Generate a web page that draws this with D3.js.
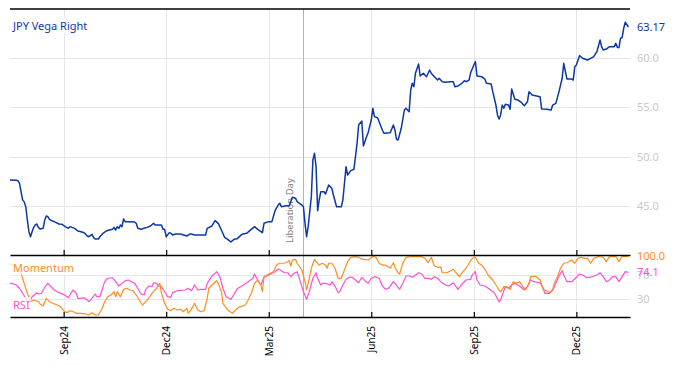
<!DOCTYPE html>
<html>
<head>
<meta charset="utf-8">
<script src="https://cdn.jsdelivr.net/npm/d3@7"></script>
<style>
  body { margin: 0; background: #fff; }
  svg { display: block; font-family: "Noto Sans", sans-serif; }
</style>
</head>
<body>
<svg id="chart" width="674" height="366"></svg>
<script>
// JPY vega (right), daily closes
var vega = [
  ["2024-07-16",47.62],["2024-07-22",47.60],["2024-07-23",47.55],["2024-07-24",47.30],["2024-07-25",46.43],
  ["2024-07-26",45.60],["2024-07-29",45.40],["2024-07-30",44.90],["2024-07-31",43.55],["2024-08-01",42.37],
  ["2024-08-02",41.86],["2024-08-05",42.37],["2024-08-06",42.81],["2024-08-07",43.05],["2024-08-08",43.15],
  ["2024-08-09",42.81],["2024-08-12",42.64],["2024-08-14",42.71],["2024-08-15",43.55],["2024-08-16",43.96],
  ["2024-08-19",43.89],["2024-08-20",43.63],["2024-08-22",43.45],["2024-08-26",43.32],["2024-08-28",43.15],
  ["2024-08-30",43.12],["2024-09-03",42.88],["2024-09-05",42.71],["2024-09-06",42.88],["2024-09-11",42.71],
  ["2024-09-13",42.44],["2024-09-17",42.37],["2024-09-19",42.27],["2024-09-23",41.93],["2024-09-24",41.86],
  ["2024-09-26",42.10],["2024-09-27",41.76],["2024-09-30",41.63],["2024-10-02",41.63],["2024-10-03",41.86],
  ["2024-10-07",42.20],["2024-10-09",42.44],["2024-10-11",42.54],["2024-10-15",42.61],["2024-10-16",42.81],
  ["2024-10-17",42.54],["2024-10-18",42.88],["2024-10-21",42.71],["2024-10-22",43.05],["2024-10-23",42.88],
  ["2024-10-24",43.66],["2024-10-25",43.39],["2024-10-29",43.39],["2024-11-04",43.35],["2024-11-05",43.22],
  ["2024-11-06",42.71],["2024-11-08",42.61],["2024-11-12",42.71],["2024-11-14",42.81],["2024-11-18",42.95],
  ["2024-11-20",43.22],["2024-11-21",43.05],["2024-11-27",43.05],["2024-11-28",42.61],["2024-11-29",42.61],
  ["2024-12-02",41.86],["2024-12-04",42.27],["2024-12-05",42.20],["2024-12-06",42.03],["2024-12-10",42.13],
  ["2024-12-13",42.13],["2024-12-19",41.93],["2024-12-23",42.13],["2024-12-24",42.13],["2024-12-26",42.03],
  ["2025-01-06",42.03],["2025-01-07",42.71],["2025-01-10",42.95],["2025-01-14",43.49],["2025-01-16",43.22],
  ["2025-01-20",42.54],["2025-01-22",41.80],["2025-01-24",41.59],["2025-01-28",41.32],["2025-01-30",41.59],
  ["2025-02-03",41.66],["2025-02-06",42.10],["2025-02-11",42.20],["2025-02-13",42.47],["2025-02-18",42.88],
  ["2025-02-20",42.61],["2025-02-25",42.27],["2025-02-26",43.22],["2025-03-03",43.39],["2025-03-05",43.39],
  ["2025-03-07",44.50],["2025-03-11",45.08],["2025-03-12",45.25],["2025-03-13",44.90],["2025-03-18",45.00],
  ["2025-03-20",45.00],["2025-03-24",45.86],["2025-03-26",45.76],["2025-03-27",45.42],["2025-04-01",45.08],
  ["2025-04-02",44.90],["2025-04-03",43.22],["2025-04-04",41.86],["2025-04-07",42.88],["2025-04-09",45.93],
  ["2025-04-10",49.65],["2025-04-11",50.33],["2025-04-14",48.97],["2025-04-15",44.50],["2025-04-16",45.59],
  ["2025-04-17",46.43],["2025-04-21",46.43],["2025-04-22",46.20],["2025-04-24",47.11],["2025-04-28",46.78],
  ["2025-04-29",46.10],["2025-05-01",44.90],["2025-05-06",44.90],["2025-05-07",45.59],["2025-05-09",48.97],
  ["2025-05-12",48.13],["2025-05-14",48.57],["2025-05-16",48.71],["2025-05-20",51.35],["2025-05-21",53.21],
  ["2025-05-23",53.62],["2025-05-26",51.08],["2025-05-28",52.02],["2025-05-29",52.43],["2025-06-02",53.72],
  ["2025-06-03",54.91],["2025-06-04",54.06],["2025-06-06",53.95],["2025-06-09",53.55],["2025-06-11",52.70],
  ["2025-06-12",52.37],["2025-06-18",52.43],["2025-06-20",53.21],["2025-06-23",52.70],["2025-06-24",51.76],
  ["2025-06-25",51.69],["2025-06-27",52.88],["2025-07-01",54.74],["2025-07-02",54.91],["2025-07-04",54.56],
  ["2025-07-07",56.77],["2025-07-08",57.45],["2025-07-09",57.10],["2025-07-10",58.47],["2025-07-14",59.41],
  ["2025-07-15",58.19],["2025-07-17",58.47],["2025-07-21",58.12],["2025-07-23",58.80],["2025-07-24",58.47],
  ["2025-07-28",58.12],["2025-07-30",57.78],["2025-07-31",57.96],["2025-08-04",57.61],["2025-08-06",57.55],
  ["2025-08-11",57.61],["2025-08-13",57.61],["2025-08-14",57.10],["2025-08-18",57.18],["2025-08-20",57.38],
  ["2025-08-22",57.71],["2025-08-25",57.61],["2025-08-27",57.78],["2025-08-28",58.53],["2025-09-01",59.31],
  ["2025-09-02",59.65],["2025-09-03",58.19],["2025-09-08",58.12],["2025-09-10",57.88],["2025-09-11",57.45],
  ["2025-09-16",57.38],["2025-09-17",56.60],["2025-09-19",55.24],["2025-09-22",54.23],["2025-09-23",53.82],
  ["2025-09-24",54.23],["2025-09-25",55.24],["2025-09-26",54.91],["2025-09-29",55.31],["2025-10-01",55.24],
  ["2025-10-02",54.81],["2025-10-03",56.87],["2025-10-07",55.82],["2025-10-09",55.75],["2025-10-13",55.52],
  ["2025-10-15",55.17],["2025-10-17",55.58],["2025-10-20",56.60],["2025-10-22",56.26],["2025-10-24",56.19],
  ["2025-10-29",56.09],["2025-10-30",54.84],["2025-11-04",54.81],["2025-11-07",54.74],["2025-11-10",55.24],
  ["2025-11-12",55.41],["2025-11-14",56.60],["2025-11-18",57.96],["2025-11-19",59.48],["2025-11-21",57.89],
  ["2025-11-26",57.89],["2025-11-27",57.78],["2025-11-28",59.14],["2025-12-01",59.31],["2025-12-03",60.26],
  ["2025-12-05",59.99],["2025-12-10",59.82],["2025-12-12",59.99],["2025-12-16",60.15],["2025-12-18",60.66],
  ["2025-12-22",61.85],["2025-12-23",61.17],["2025-12-24",60.83],["2025-12-26",60.93],["2025-12-30",61.17],
  ["2026-01-02",61.17],["2026-01-05",61.51],["2026-01-06",61.10],["2026-01-07",61.07],["2026-01-08",62.02],
  ["2026-01-09",62.08],["2026-01-12",63.04],["2026-01-13",63.65],["2026-01-15",63.17]
];

var momentum = [
  ["2024-07-16",88],["2024-07-23",80.7],["2024-07-25",72.5],["2024-07-29",56],["2024-07-31",39.7],
  ["2024-08-02",25.9],["2024-08-06",28.7],["2024-08-09",25.9],["2024-08-12",22.1],["2024-08-14",18.9],
  ["2024-08-16",31.5],["2024-08-20",25.9],["2024-08-22",23.3],["2024-08-27",20.5],["2024-08-29",17.7],
  ["2024-09-02",11.1],["2024-09-04",7.9],["2024-09-06",11.1],["2024-09-10",9.5],["2024-09-12",6.9],
  ["2024-09-17",6.9],["2024-09-20",5.7],["2024-09-24",4.1],["2024-09-26",7.9],["2024-09-30",4.1],
  ["2024-10-02",4.1],["2024-10-04",12.3],["2024-10-08",25.9],["2024-10-10",34.1],["2024-10-14",36.9],
  ["2024-10-16",42.3],["2024-10-17",34.1],["2024-10-18",42.3],["2024-10-22",34.1],["2024-10-24",46.2],
  ["2024-10-28",47.9],["2024-10-30",45.1],["2024-11-01",43.9],["2024-11-05",36.9],["2024-11-07",28.7],
  ["2024-11-11",20.5],["2024-11-13",25.9],["2024-11-14",28.7],["2024-11-19",39.7],["2024-11-20",42.3],
  ["2024-11-22",47.9],["2024-11-25",53.3],["2024-11-26",56],["2024-11-27",39.7],["2024-11-29",23.3],
  ["2024-12-03",13.4],["2024-12-05",11.1],["2024-12-09",15.1],["2024-12-11",12.3],["2024-12-13",13.4],
  ["2024-12-17",9.5],["2024-12-19",15.1],["2024-12-20",6.9],["2024-12-24",13.4],["2024-12-26",23.3],
  ["2024-12-30",12.3],["2025-01-01",9.5],["2025-01-03",11.1],["2025-01-07",31.5],["2025-01-08",47.9],
  ["2025-01-10",53.3],["2025-01-15",60.3],["2025-01-16",56],["2025-01-20",42.3],["2025-01-21",23.3],
  ["2025-01-24",12.3],["2025-01-29",6.9],["2025-01-31",12.3],["2025-02-04",16.7],["2025-02-10",20.5],
  ["2025-02-12",28.7],["2025-02-14",39.7],["2025-02-18",56],["2025-02-20",61.5],["2025-02-24",53.3],
  ["2025-02-25",42.3],["2025-02-26",66.9],["2025-03-03",71.3],["2025-03-06",75.1],["2025-03-10",86],
  ["2025-03-12",88.9],["2025-03-14",88.9],["2025-03-18",89.8],["2025-03-20",93.1],["2025-03-21",84.4],
  ["2025-03-24",94.3],["2025-03-26",95.4],["2025-03-27",88.9],["2025-04-01",77.9],["2025-04-03",58.7],
  ["2025-04-04",45.1],["2025-04-07",56],["2025-04-09",80.7],["2025-04-11",95.4],["2025-04-14",91.5],
  ["2025-04-16",86],["2025-04-18",88.9],["2025-04-22",86],["2025-04-23",80.7],["2025-04-24",88.9],
  ["2025-04-28",88.9],["2025-04-30",80.7],["2025-05-02",64.3],["2025-05-06",64.3],["2025-05-08",77.9],
  ["2025-05-12",91.5],["2025-05-14",98.7],["2025-05-19",99.7],["2025-05-21",98.7],["2025-05-23",95.4],
  ["2025-05-27",95.4],["2025-05-29",94.3],["2025-06-03",100],["2025-06-05",98.7],["2025-06-09",88.9],
  ["2025-06-11",86],["2025-06-13",86],["2025-06-18",80.7],["2025-06-20",89.8],["2025-06-23",82.3],
  ["2025-06-25",73.4],["2025-06-26",71.3],["2025-06-30",88.9],["2025-07-02",98.7],["2025-07-07",99.7],
  ["2025-07-10",100],["2025-07-16",99.7],["2025-07-18",97],["2025-07-22",89.8],["2025-07-24",98.7],
  ["2025-07-28",84.4],["2025-07-30",82.3],["2025-08-01",83],["2025-08-04",73.4],["2025-08-07",73.4],
  ["2025-08-13",79],["2025-08-15",72.5],["2025-08-19",66.9],["2025-08-21",75.1],["2025-08-25",80.7],
  ["2025-08-27",88.9],["2025-08-29",97],["2025-09-02",98.7],["2025-09-04",88.9],["2025-09-08",86],
  ["2025-09-10",79],["2025-09-12",69.7],["2025-09-17",61.5],["2025-09-19",53.3],["2025-09-23",45.1],
  ["2025-09-24",42.3],["2025-09-26",50.5],["2025-09-30",50.5],["2025-10-02",46.2],["2025-10-06",58.7],
  ["2025-10-08",56],["2025-10-10",58.7],["2025-10-14",50.5],["2025-10-16",46.2],["2025-10-20",56],
  ["2025-10-21",66.9],["2025-10-24",68],["2025-10-29",61.5],["2025-10-31",46.2],["2025-11-04",43.9],
  ["2025-11-06",40.7],["2025-11-10",46.2],["2025-11-11",56],["2025-11-13",66.9],["2025-11-17",80.7],
  ["2025-11-19",88.9],["2025-11-21",89.8],["2025-11-26",94.3],["2025-11-28",88.9],["2025-12-02",97],
  ["2025-12-04",98.7],["2025-12-08",97],["2025-12-10",97],["2025-12-12",88.9],["2025-12-16",97],
  ["2025-12-19",100],["2025-12-24",98.7],["2025-12-26",91.5],["2025-12-30",99.7],["2026-01-01",99.7],
  ["2026-01-05",100],["2026-01-07",91.5],["2026-01-09",100],["2026-01-15",100]
];

var rsi = [
  ["2024-07-16",56],["2024-07-17",56],["2024-07-22",53.3],["2024-07-24",47.9],["2024-07-26",39.7],
  ["2024-07-30",31.5],["2024-08-01",24.3],["2024-08-05",34.1],["2024-08-08",40.7],["2024-08-09",38.5],
  ["2024-08-13",39.7],["2024-08-14",45.1],["2024-08-16",53.3],["2024-08-19",56],["2024-08-21",50.5],
  ["2024-08-23",45.1],["2024-08-28",40.7],["2024-09-02",38],["2024-09-05",32.5],["2024-09-06",36.9],
  ["2024-09-10",45.1],["2024-09-12",39.7],["2024-09-13",31.5],["2024-09-17",31.5],["2024-09-19",32.5],
  ["2024-09-23",28.7],["2024-09-24",25.9],["2024-09-26",31.5],["2024-09-30",38.5],["2024-10-01",34.1],
  ["2024-10-03",34.1],["2024-10-04",42.3],["2024-10-08",58.7],["2024-10-10",64.3],["2024-10-15",65.2],
  ["2024-10-17",58.7],["2024-10-21",51.6],["2024-10-23",56],["2024-10-25",60.3],["2024-10-29",61.5],
  ["2024-10-31",58.7],["2024-11-04",56],["2024-11-06",47.9],["2024-11-08",38.5],["2024-11-12",36.9],
  ["2024-11-13",46.2],["2024-11-15",51.6],["2024-11-19",50.5],["2024-11-20",57],["2024-11-22",56],
  ["2024-11-25",51.6],["2024-11-27",50.5],["2024-11-29",42.3],["2024-12-03",34.1],["2024-12-05",33.1],
  ["2024-12-06",40.7],["2024-12-11",43.9],["2024-12-18",45.1],["2024-12-20",47.9],["2024-12-24",43.9],
  ["2024-12-26",53.3],["2024-12-30",45.1],["2025-01-01",46.2],["2025-01-06",46.2],["2025-01-07",56],
  ["2025-01-10",68],["2025-01-14",72.5],["2025-01-15",75.1],["2025-01-17",66.9],["2025-01-21",48],
  ["2025-01-23",34.1],["2025-01-28",29.8],["2025-01-30",38],["2025-02-03",47],["2025-02-07",53.3],
  ["2025-02-12",58.7],["2025-02-17",64.3],["2025-02-18",71.3],["2025-02-20",61.5],["2025-02-24",53.3],
  ["2025-02-26",65.9],["2025-03-03",69.7],["2025-03-07",75.1],["2025-03-11",79.5],["2025-03-13",76.7],
  ["2025-03-17",73.4],["2025-03-19",73.4],["2025-03-21",66.9],["2025-03-25",72.5],["2025-03-27",75.1],
  ["2025-03-31",58.7],["2025-04-02",42.3],["2025-04-04",29.8],["2025-04-08",45.1],["2025-04-10",64.3],
  ["2025-04-14",73.4],["2025-04-15",64.3],["2025-04-17",53.3],["2025-04-18",56],["2025-04-22",56],
  ["2025-04-25",53.3],["2025-04-28",58.7],["2025-04-30",51.6],["2025-05-02",40.7],["2025-05-05",42.3],
  ["2025-05-07",53.3],["2025-05-09",62.6],["2025-05-13",65.9],["2025-05-15",65.9],["2025-05-19",61.5],
  ["2025-05-21",57],["2025-05-23",65.9],["2025-05-27",60.3],["2025-05-29",56],["2025-06-02",64.3],
  ["2025-06-04",66.9],["2025-06-09",64.3],["2025-06-11",51.6],["2025-06-13",46.2],["2025-06-17",47.9],
  ["2025-06-20",58.7],["2025-06-23",56],["2025-06-25",49.5],["2025-06-26",46.2],["2025-06-30",56],
  ["2025-07-02",68],["2025-07-04",68],["2025-07-08",65.9],["2025-07-10",69.7],["2025-07-14",73.4],
  ["2025-07-16",71.3],["2025-07-18",64.3],["2025-07-22",64.3],["2025-07-24",62.6],["2025-07-28",66.9],
  ["2025-07-30",64.3],["2025-08-01",58.7],["2025-08-06",53.3],["2025-08-08",51.6],["2025-08-13",57],
  ["2025-08-18",46.2],["2025-08-20",53.3],["2025-08-25",61.5],["2025-08-28",62.6],["2025-08-29",69.7],
  ["2025-09-02",75.1],["2025-09-03",61.5],["2025-09-05",53.3],["2025-09-10",51.6],["2025-09-15",46.2],
  ["2025-09-18",40.7],["2025-09-23",25.9],["2025-09-24",28.7],["2025-09-26",43.9],["2025-09-29",50.5],
  ["2025-10-01",47.9],["2025-10-03",53.3],["2025-10-07",56],["2025-10-10",51.6],["2025-10-15",45.1],
  ["2025-10-17",50.5],["2025-10-21",61.5],["2025-10-23",58.7],["2025-10-29",57],["2025-10-31",47.9],
  ["2025-11-03",39.7],["2025-11-06",39.7],["2025-11-10",45.1],["2025-11-12",56],["2025-11-14",68],
  ["2025-11-18",76.7],["2025-11-19",69.7],["2025-11-21",58.7],["2025-11-26",58.7],["2025-12-01",65.9],
  ["2025-12-03",71.3],["2025-12-05",69.7],["2025-12-09",65.9],["2025-12-12",65.9],["2025-12-18",69.7],
  ["2025-12-22",73.4],["2025-12-24",66.9],["2025-12-26",58.7],["2025-12-30",61.5],["2026-01-01",66.9],
  ["2026-01-05",66.9],["2026-01-07",58.7],["2026-01-09",66.9],["2026-01-13",75.1],["2026-01-15",74.1]
];

var tickMonths = ["2024-09-01","2024-12-01","2025-03-01","2025-06-01","2025-09-01","2025-12-01"];
var vegaTicks = [45, 50, 55, 60];
var oscTicks = [30, 70];
var events = [["2025-04-02", "Liberation Day"]];
var dateRange = ["2024-07-16", "2026-01-16"];

var parse = d3.timeParse("%Y-%m-%d");
var t0 = parse(dateRange[0]);

// x is on trading days, weekends are skipped
function bday(s) {
  var d = typeof s === "string" ? parse(s) : s;
  return d3.timeDay.range(t0, d).filter(function(e) {
    var w = e.getDay();
    return w > 0 && w < 6;
  }).length;
}

var svg = d3.select("#chart"),
  plotLeft = 10,
  plotRight = 630,
  plotTop = 9,
  plotMid = 255,
  plotBottom = 317;

var x = d3.scaleLinear().domain([0, bday(dateRange[1])]).range([plotLeft, plotRight]);
var yTop = d3.scaleLinear().domain([40, 65]).range([plotMid, plotTop]);
var yBot = d3.scaleLinear().domain([0, 100]).range([plotBottom + 0.5, plotMid + 1.5]);

var blue = "#0d37a6",
  orange = "#ff8d1e",
  pink = "#ff4fd6";

// grid
var grid = svg.append("g").attr("stroke", "#e6e6e6").attr("stroke-width", 1);
grid.selectAll(".hv")
  .data(vegaTicks)
  .enter()
  .append("line")
  .attr("x1", plotLeft).attr("x2", plotRight)
  .attr("y1", d => Math.round(yTop(d)) + 0.5)
  .attr("y2", d => Math.round(yTop(d)) + 0.5);
grid.selectAll(".ho")
  .data(oscTicks)
  .enter()
  .append("line")
  .attr("x1", plotLeft).attr("x2", plotRight)
  .attr("y1", d => Math.round(yBot(d)) + 0.5)
  .attr("y2", d => Math.round(yBot(d)) + 0.5);
grid.selectAll(".v")
  .data(tickMonths)
  .enter()
  .append("line")
  .attr("x1", d => Math.round(x(bday(d))) + 0.5)
  .attr("x2", d => Math.round(x(bday(d))) + 0.5)
  .attr("y1", plotTop).attr("y2", plotBottom);

// event marker
var ev = svg.append("g").selectAll("g").data(events).enter().append("g");
ev.append("line")
  .attr("x1", d => Math.round(x(bday(d[0]))) + 0.5)
  .attr("x2", d => Math.round(x(bday(d[0]))) + 0.5)
  .attr("y1", plotTop).attr("y2", plotBottom)
  .attr("stroke", "#b5b5b5");
ev.append("text")
  .attr("transform", d => "translate(" + (x(bday(d[0])) - 10) + "," + (plotMid - 12) + ") rotate(-90)")
  .attr("fill", "#808080")
  .style("font-size", "9.5px")
  .text(d => d[1]);

// series
var lineTop = d3.line().x(d => x(bday(d[0]))).y(d => yTop(d[1]));
var lineBot = d3.line().x(d => x(bday(d[0]))).y(d => yBot(d[1]));

svg.append("path").datum(rsi)
  .attr("d", lineBot).attr("fill", "none")
  .attr("stroke", pink).attr("stroke-width", 1.2).attr("stroke-linejoin", "round");
svg.append("path").datum(momentum)
  .attr("d", lineBot).attr("fill", "none")
  .attr("stroke", orange).attr("stroke-width", 1.2).attr("stroke-linejoin", "round");
svg.append("path").datum(vega)
  .attr("d", lineTop).attr("fill", "none")
  .attr("stroke", blue).attr("stroke-width", 1.5).attr("stroke-linejoin", "round");

// axes
var tickPos = tickMonths.map(bday);
var fmt = d3.timeFormat("%b%y");

svg.append("line")
  .attr("x1", plotLeft).attr("x2", plotRight)
  .attr("y1", plotTop).attr("y2", plotTop)
  .attr("stroke", "#000").attr("stroke-width", 1.5);

var axTop = svg.append("g")
  .attr("transform", "translate(0," + plotMid + ")")
  .call(d3.axisBottom(x).tickValues(tickPos).tickSizeInner(-5).tickSizeOuter(0).tickFormat(""));

var axBot = svg.append("g")
  .attr("transform", "translate(0," + plotBottom + ")")
  .call(d3.axisBottom(x).tickValues(tickPos).tickSizeInner(-5).tickSizeOuter(0)
    .tickFormat((d, i) => fmt(parse(tickMonths[i]))));

[axTop, axBot].forEach(function(ax) {
  ax.select(".domain").attr("stroke", "#000").attr("stroke-width", 1.5);
  ax.selectAll(".tick line").attr("stroke", "#000").attr("stroke-width", 1.2);
});

axBot.selectAll("text")
  .attr("transform", "rotate(-90)")
  .attr("x", -9)
  .attr("y", 0)
  .attr("dy", "0.35em")
  .style("text-anchor", "end")
  .style("font-size", "10px")
  .style("font-family", "Noto Sans, sans-serif")
  .attr("fill", "#000");

// right labels
var rTop = svg.append("g")
  .attr("transform", "translate(" + plotRight + ",0)")
  .call(d3.axisRight(yTop).tickValues(vegaTicks).tickSize(0).tickPadding(7).tickFormat(d3.format(".1f")));
var rBot = svg.append("g")
  .attr("transform", "translate(" + plotRight + ",0)")
  .call(d3.axisRight(yBot).tickValues(oscTicks).tickSize(0).tickPadding(7).tickFormat(d3.format("d")));
[rTop, rBot].forEach(function(ax) {
  ax.select(".domain").remove();
  ax.selectAll("text")
    .attr("fill", "#c8c8c8")
    .style("font-size", "11px")
    .style("font-family", "Noto Sans, sans-serif");
});

var lastLabels = [
  [yTop(vega[vega.length - 1][1]), d3.format(".2f")(vega[vega.length - 1][1]), blue],
  [yBot(momentum[momentum.length - 1][1]), d3.format(".1f")(momentum[momentum.length - 1][1]), orange],
  [yBot(rsi[rsi.length - 1][1]), d3.format(".1f")(rsi[rsi.length - 1][1]), pink]
];
svg.append("g").selectAll("text")
  .data(lastLabels)
  .enter()
  .append("text")
  .attr("x", plotRight + 7)
  .attr("y", d => d[0])
  .attr("dy", "0.35em")
  .attr("fill", d => d[2])
  .style("font-size", "11px")
  .text(d => d[1]);

// series names, on a pale box
var names = [
  ["JPY Vega Right", yTop(63.3), blue],
  ["Momentum", yBot(80.5), orange],
  ["RSI", yBot(20), pink]
];
var nameG = svg.append("g").selectAll("g").data(names).enter().append("g");
nameG.append("rect").attr("fill", "#fff").attr("fill-opacity", 0.75);
nameG.append("text")
  .attr("x", plotLeft + 3)
  .attr("y", d => d[1])
  .attr("dy", "0.35em")
  .attr("fill", d => d[2])
  .style("font-size", "11px")
  .text(d => d[0]);
nameG.each(function() {
  var g = d3.select(this);
  var b = g.select("text").node().getBBox();
  g.select("rect")
    .attr("x", plotLeft).attr("y", b.y)
    .attr("width", b.x + b.width + 1 - plotLeft).attr("height", b.height);
});
</script>
</body>
</html>
